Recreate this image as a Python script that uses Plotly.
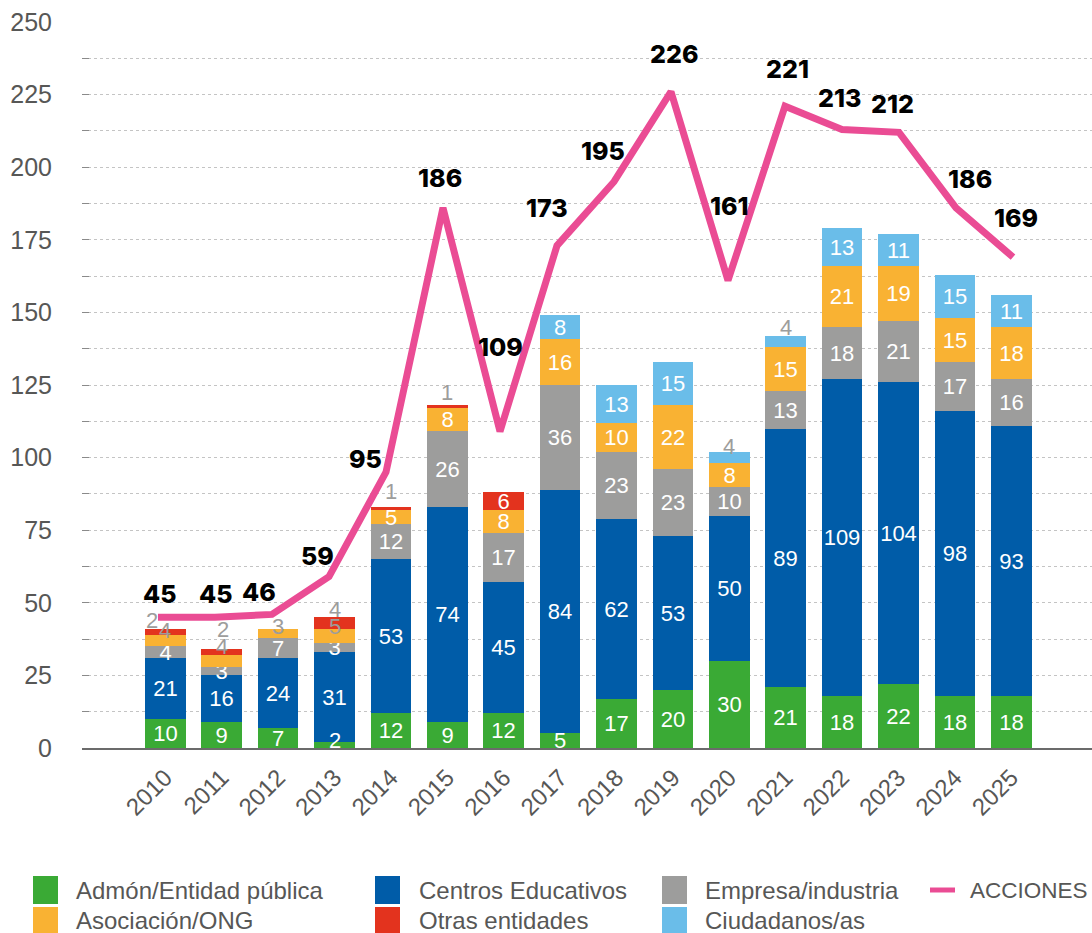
import plotly.graph_objects as go

# ---- data -------------------------------------------------------------
years = list(range(2010, 2026))
year_labels = [str(y) for y in years]

admon = [10, 9, 7, 2, 12, 9, 12, 5, 17, 20, 30, 21, 18, 22, 18, 18]
centros = [21, 16, 24, 31, 53, 74, 45, 84, 62, 53, 50, 89, 109, 104, 98, 93]
empresa = [4, 3, 7, 3, 12, 26, 17, 36, 23, 23, 10, 13, 18, 21, 17, 16]
asociacion = [4, 4, 3, 5, 5, 8, 8, 16, 10, 22, 8, 15, 21, 19, 15, 18]
otras = [2, 2, 0, 4, 1, 1, 6, 0, 0, 0, 0, 0, 0, 0, 0, 0]
ciudadanos = [0, 0, 0, 0, 0, 0, 0, 8, 13, 15, 4, 4, 13, 11, 15, 11]
acciones = [45, 45, 46, 59, 95, 186, 109, 173, 195, 226, 161, 221, 213, 212, 186, 169]

y_ticks = list(range(0, 251, 25))

# ---- styling ------------------------------------------------------------
FONT = "Liberation Sans, Arial, Helvetica, sans-serif"
BOLD_FONT = "Inter, Lato, Open Sans, sans-serif"
TEXT_GREY = "#575756"
LINE_PINK = "#EA4C94"

series = [
    ("Admón/Entidad pública", admon, "#3AAA35"),
    ("Centros Educativos", centros, "#005CA8"),
    ("Empresa/industria", empresa, "#9D9D9C"),
    ("Asociación/ONG", asociacion, "#F9B233"),
    ("Otras entidades", otras, "#E3331E"),
    ("Ciudadanos/as", ciudadanos, "#6ABDE9"),
]

# segments too thin for an inside label: label drawn in grey above the stack
# key: (series index, year) -> (x shift px, y shift px from segment top)
outside_labels = {
    (3, 2010): (0, 4), (4, 2010): (-13, 8),
    (3, 2011): (0, 9), (4, 2011): (1, 20),
    (3, 2012): (0, 2),
    (3, 2013): (0, 2), (4, 2013): (0, 8),
    (4, 2014): (0, 15),
    (4, 2015): (0, 13),
    (5, 2020): (0, 5),
    (5, 2021): (0, 8),
}
# thin segments whose white label overflows the bar: (x shift, y shift from segment centre)
overflow_labels = {
    (0, 2013): (0, 5),
}

# offsets (x px, y px upward) of the ACCIONES value labels
line_label_offsets = [
    (2, 23), (1, 23), (-13, 22), (-11, 21), (-20, 13), (-3, 30), (1, 84),
    (-10, 38), (-11, 31), (3, 38), (2, 74), (3, 37), (-2, 31), (-6, 28),
    (14, 29), (3, 39),
]

# plot area in page pixels
W, H = 1092, 933
PL, PR, PT, PB = 82, 1092, 22, 748


def px_to_paper(px, py):
    return (px - PL) / (PR - PL), (PB - py) / (PB - PT)


fig = go.Figure()

annotations = []
cum = [0] * len(years)
for si, (name, vals, color) in enumerate(series):
    texts = []
    for i, (yr, v) in enumerate(zip(years, vals)):
        top = cum[i] + v
        if v > 0 and (si, yr) in outside_labels:
            dx, dy = outside_labels[(si, yr)]
            annotations.append(dict(
                x=yr, y=top, xref="x", yref="y", text=str(v), showarrow=False,
                xanchor="center", yanchor="middle", xshift=dx, yshift=dy,
                font=dict(family=FONT, size=22, color="#9D9D9C"),
            ))
            texts.append("")
        elif v > 0 and (si, yr) in overflow_labels:
            dx, dy = overflow_labels[(si, yr)]
            annotations.append(dict(
                x=yr, y=cum[i] + v / 2, xref="x", yref="y", text=str(v),
                showarrow=False, xanchor="center", yanchor="middle",
                xshift=dx, yshift=dy,
                font=dict(family=FONT, size=22, color="white"),
            ))
            texts.append("")
        else:
            texts.append(str(v) if v > 0 else "")
        cum[i] = top
    fig.add_trace(go.Bar(
        x=years, y=vals, name=name, marker=dict(color=color, line=dict(width=0)),
        width=0.72, text=texts, textposition="inside", insidetextanchor="middle",
        textangle=0, constraintext="none",
        textfont=dict(family=FONT, size=22, color="white"),
        showlegend=False, hoverinfo="skip",
    ))

fig.add_trace(go.Scatter(
    x=years, y=acciones, xaxis="x2", yaxis="y", mode="lines", name="ACCIONES",
    line=dict(color=LINE_PINK, width=7), showlegend=False, hoverinfo="skip",
))

for yr, v, (dx, dy) in zip(years, acciones, line_label_offsets):
    annotations.append(dict(
        x=yr, y=v, xref="x2", yref="y", text=str(v), showarrow=False,
        xanchor="center", yanchor="middle", xshift=dx, yshift=dy,
        font=dict(family=BOLD_FONT, size=25, color="black", weight=800),
    ))

# ---- legend drawn below the plot -----------------------------------------
shapes = []
legend_items = [
    # (label, colour, square left px, text left px, row centre px, kind, font size)
    ("Admón/Entidad pública", "#3AAA35", 33, 74, 890, "box", 24),
    ("Centros Educativos", "#005CA8", 375, 417, 890, "box", 24),
    ("Empresa/industria", "#9D9D9C", 662, 703, 890, "box", 24),
    ("ACCIONES", LINE_PINK, 930, 968, 890, "line", 22.5),
    ("Asociación/ONG", "#F9B233", 33, 74, 921, "box", 24),
    ("Otras entidades", "#E3331E", 375, 417, 921, "box", 24),
    ("Ciudadanos/as", "#6ABDE9", 662, 703, 921, "box", 24),
]
for label, color, sx, tx, cy, kind, fsize in legend_items:
    if kind == "box":
        x0, y0 = px_to_paper(sx, cy - 14)
        x1, y1 = px_to_paper(sx + 25, cy + 14)
        shapes.append(dict(type="rect", xref="paper", yref="paper",
                           x0=x0, x1=x1, y0=y1, y1=y0,
                           fillcolor=color, line=dict(width=0)))
    else:
        x0, yy = px_to_paper(sx, cy)
        x1, _ = px_to_paper(sx + 25, cy)
        shapes.append(dict(type="line", xref="paper", yref="paper",
                           x0=x0, x1=x1, y0=yy, y1=yy,
                           line=dict(color=color, width=5)))
    ax, ay = px_to_paper(tx, cy)
    annotations.append(dict(
        x=ax, y=ay, xref="paper", yref="paper", text=label, showarrow=False,
        xanchor="left", yanchor="middle",
        font=dict(family=FONT, size=fsize, color=TEXT_GREY),
    ))

# x ranges chosen so bars and line share the same categories
bar_range = [2008.523, 2026.431]
line_range = [2008.667, 2026.386]

fig.update_layout(
    width=W, height=H, autosize=False,
    margin=dict(l=PL, r=W - PR, t=PT, b=H - PB, pad=0),
    paper_bgcolor="white", plot_bgcolor="white",
    barmode="stack", bargap=0,
    font=dict(family=FONT, color=TEXT_GREY),
    xaxis=dict(
        range=bar_range, tickmode="array", tickvals=years, ticktext=year_labels,
        tickangle=-45, tickfont=dict(family=FONT, size=24, color=TEXT_GREY),
        showgrid=False, zeroline=False, showline=True, linecolor="#6B6B6B",
        linewidth=2, ticks="", ticklabelstandoff=4,
    ),
    xaxis2=dict(range=line_range, overlaying="x", visible=False),
    yaxis=dict(
        range=[0, 250], tickmode="array", tickvals=y_ticks,
        tickfont=dict(family=FONT, size=25, color=TEXT_GREY),
        showgrid=True, gridcolor="#C4C4C4", griddash="dot", gridwidth=1,
        ticks="inside", ticklen=7, tickcolor="#8A8A8A", tickwidth=1,
        zeroline=False, showline=False, ticklabelstandoff=29,
        minor=dict(dtick=12.5, tick0=0, ticks="inside", ticklen=7,
                   tickcolor="#8A8A8A", showgrid=True, gridcolor="#C4C4C4",
                   griddash="dot", gridwidth=1),
    ),
    annotations=annotations,
    shapes=shapes,
)

fig.write_html("out.html")
